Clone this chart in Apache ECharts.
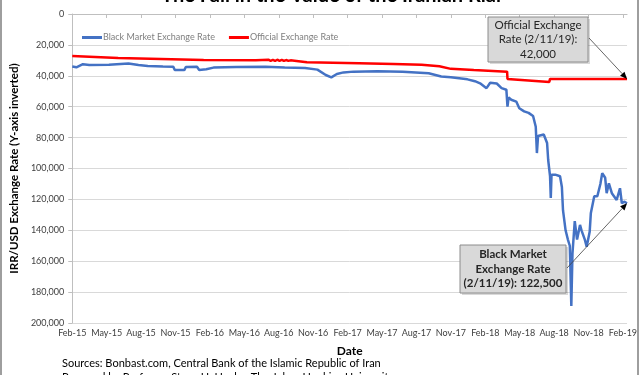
<!DOCTYPE html>
<html><head><meta charset="utf-8">
<script src="https://cdn.jsdelivr.net/npm/echarts@6/dist/echarts.min.js"></script>
<style>html,body{margin:0;padding:0;background:#fff}#c{width:640px;height:375px}</style>
</head><body><div id="c"></div>
<script>
const titleText = 'The Fall in the Value of the Iranian Rial';
const seriesNames = ['Black Market Exchange Rate', 'Official Exchange Rate'];
const tickLabels = ['Feb-15','May-15','Aug-15','Nov-15','Feb-16','May-16','Aug-16','Nov-16','Feb-17','May-17','Aug-17','Nov-17','Feb-18','May-18','Aug-18','Nov-18','Feb-19'];
const yTicks = [0,20000,40000,60000,80000,100000,120000,140000,160000,180000,200000];

const blackDates = ['2015-02-01','2015-02-11','2015-02-27','2015-03-16','2015-05-07','2015-06-28','2015-07-25','2015-08-19','2015-09-28','2015-10-26','2015-10-30','2015-11-24','2015-11-28','2015-12-28','2016-01-03','2016-01-22','2016-02-10','2016-04-10','2016-06-26','2016-08-17','2016-10-10','2016-11-12','2016-12-04','2016-12-19','2017-01-03','2017-01-21','2017-02-15','2017-04-19','2017-06-25','2017-09-03','2017-10-06','2017-11-01','2017-12-15','2018-01-04','2018-01-18','2018-02-04','2018-02-13','2018-03-01','2018-03-14','2018-03-27','2018-03-30','2018-04-02','2018-04-09','2018-04-22','2018-04-30','2018-05-13','2018-05-25','2018-06-06','2018-06-13','2018-06-16','2018-06-19','2018-07-04','2018-07-13','2018-07-16','2018-07-21','2018-07-23','2018-07-25','2018-08-04','2018-08-17','2018-08-22','2018-08-25','2018-09-01','2018-09-07','2018-09-12','2018-09-16','2018-09-19','2018-09-25','2018-10-01','2018-10-09','2018-10-13','2018-10-22','2018-10-27','2018-11-04','2018-11-07','2018-11-16','2018-11-24','2018-12-02','2018-12-07','2018-12-15','2018-12-19','2018-12-25','2019-01-02','2019-01-15','2019-01-24','2019-01-29','2019-02-04','2019-02-11'];
const blackValues = [34000,34500,32500,33000,32800,32000,33000,33700,34000,34200,36300,36300,34300,34200,36200,35800,34700,34300,34100,34600,35000,36000,39500,41000,38800,37800,37300,37000,37300,38400,40500,41000,42300,43500,44900,48000,44500,45000,48000,49000,60000,54000,55500,56700,61000,63000,64000,66000,73000,90000,79000,78000,83500,94500,105000,119000,104000,104000,105000,112000,127000,140000,146000,150000,189000,155000,134000,146000,136500,140000,146000,150600,141000,129000,118000,118000,110000,103000,106000,116000,109600,116000,120400,112800,122500,121500,122500];

const officialDates = ['2015-02-01','2015-06-01','2016-01-15','2016-06-01','2016-07-04','2016-07-10','2016-07-16','2016-07-22','2016-07-28','2016-08-03','2016-08-09','2016-08-15','2016-08-21','2016-08-27','2016-09-02','2016-09-12','2016-10-15','2017-03-01','2017-06-01','2017-08-15','2017-10-01','2017-11-01','2018-01-01','2018-03-29','2018-03-30','2018-07-19','2018-07-21','2019-02-11'];
const officialValues = [27200,28500,29800,30000,29600,30300,29700,30400,29600,30300,29700,30400,29800,30300,30000,30200,31200,31800,32300,32800,33800,35500,36300,37300,42000,44000,42000,42000];

const annOfficial = ['Official Exchange', 'Rate (2/11/19):', '42,000'];
const annBlack = ['Black Market', 'Exchange Rate', '(2/11/19): 122,500'];
const sourceLines = ['Sources: Bonbast.com, Central Bank of the Islamic Republic of Iran', 'Prepared by Professor Steve H. Hanke, The Johns Hopkins University'];

function toM(s){
  const [y,m,d] = s.split('-').map(Number);
  const dim = new Date(y, m, 0).getDate();
  return (y-2015)*12 + (m-2) + (d-1)/dim;
}
const blackData = blackDates.map((d,i)=>[toM(d), blackValues[i]]);
const officialData = officialDates.map((d,i)=>[toM(d), officialValues[i]]);
const xTickVals = tickLabels.map((_,i)=>i*3);
const xMax = toM('2019-02-11');

const FONT = 'Lato, "Open Sans", sans-serif';
const chart = echarts.init(document.getElementById('c'), null, {renderer:'canvas'});
const option = {
  animation:false,
  textStyle:{fontFamily:FONT},
  grid:{left:61, right:11, top:14, bottom:52, containLabel:false},
  legend:{
    left:77, top:28, itemWidth:20, itemHeight:3, itemGap:14, icon:'rect',
    textStyle:{fontSize:9, color:'#7f7f7f', fontFamily:FONT, padding:[0,0,0,-4]},
    data:seriesNames
  },
  xAxis:{
    type:'value', min:0, max:xMax, interval:3,
    name:'Date', nameLocation:'middle', nameGap:22,
    nameTextStyle:{fontSize:12, fontWeight:'bold', color:'#000', fontFamily:FONT},
    axisLine:{show:true, lineStyle:{color:'#bfbfbf'}},
    axisTick:{show:true, length:4, inside:false, lineStyle:{color:'#bfbfbf'}, customValues:xTickVals},
    splitLine:{show:false},
    axisLabel:{fontSize:9, color:'#404040', margin:6, customValues:xTickVals,
      formatter:function(v){const i=Math.round(v/3); return (Math.abs(v-i*3)<1e-6 && tickLabels[i])?tickLabels[i]:'';}}
  },
  yAxis:{
    type:'value', inverse:true, min:0, max:200000, interval:20000,
    name:'IRR/USD Exchange Rate (Y-axis inverted)', nameLocation:'middle', nameGap:47, nameRotate:90,
    nameTextStyle:{fontSize:11.5, fontWeight:'bold', color:'#000', fontFamily:FONT},
    axisLine:{show:true, lineStyle:{color:'#bfbfbf'}},
    axisTick:{show:true, length:4, lineStyle:{color:'#bfbfbf'}},
    splitLine:{show:true, lineStyle:{color:'#d9d9d9'}},
    axisLabel:{fontSize:9, color:'#404040', margin:8, formatter:function(v){return v.toLocaleString('en-US');}}
  },
  series:[
    {name:seriesNames[0], type:'line', data:blackData, showSymbol:false, symbol:'none', z:3,
     lineStyle:{color:'#4472c4', width:2.5}, itemStyle:{color:'#4472c4'}},
    {name:seriesNames[1], type:'line', data:officialData, showSymbol:false, symbol:'none', z:2,
     lineStyle:{color:'#ff0000', width:2.5}, itemStyle:{color:'#ff0000'}}
  ]
};
chart.setOption(option);

function arrow(x1,y1,x2,y2){
  const a = Math.atan2(y2-y1, x2-x1), L=7, W=3;
  const bx = x2 - L*Math.cos(a), by = y2 - L*Math.sin(a);
  return [
    {type:'line', shape:{x1:x1,y1:y1,x2:bx,y2:by}, style:{stroke:'#404040', lineWidth:0.8}, z:20},
    {type:'polygon', shape:{points:[[x2,y2],[bx+W*Math.sin(a), by-W*Math.cos(a)],[bx-W*Math.sin(a), by+W*Math.cos(a)]]}, style:{fill:'#000'}, z:20}
  ];
}
function box(x,y,w,h,lines,bold){
  const els = [{type:'rect', shape:{x:x+2,y:y+2,width:w,height:h}, style:{fill:'rgba(0,0,0,0.15)'}, z:18},
    {type:'rect', shape:{x:x,y:y,width:w,height:h}, style:{fill:'#d9d9d9', stroke:'#8c8c8c', lineWidth:1}, z:19}];
  lines.forEach((t,i)=>{
    els.push({type:'text', x:x+w/2, y:y+h/2+(i-1)*14.5, z:21,
      style:{text:t, fill:'#262626', font:(bold?'bold ':'')+'11.5px '+FONT, align:'center', verticalAlign:'middle'}});
  });
  return els;
}
const endOff = chart.convertToPixel({gridIndex:0}, officialData[officialData.length-1]);
const endBlk = chart.convertToPixel({gridIndex:0}, blackData[blackData.length-1]);
const g = [];
g.push({type:'rect', shape:{x:1,y:-5,width:637,height:390}, style:{fill:'none', stroke:'#7f7f7f', lineWidth:1.5}, z:0, silent:true});
g.push({type:'text', x:331, y:-4, style:{text:titleText, fill:'#000', font:'bold 20px '+FONT, align:'center', verticalAlign:'middle'}, z:22});
g.push(...box(488,17,100,45,annOfficial,false));
g.push(...arrow(589,38,endOff[0],endOff[1]));
g.push(...box(460,245,106,48,annBlack,true));
g.push(...arrow(567,268,endBlk[0],endBlk[1]));
sourceLines.forEach((t,i)=>g.push({type:'text', x:62, y:363+i*14, style:{text:t, fill:'#000', font:'11px '+FONT, align:'left', verticalAlign:'middle'}, z:22}));
chart.setOption({graphic:g});
</script></body></html>
